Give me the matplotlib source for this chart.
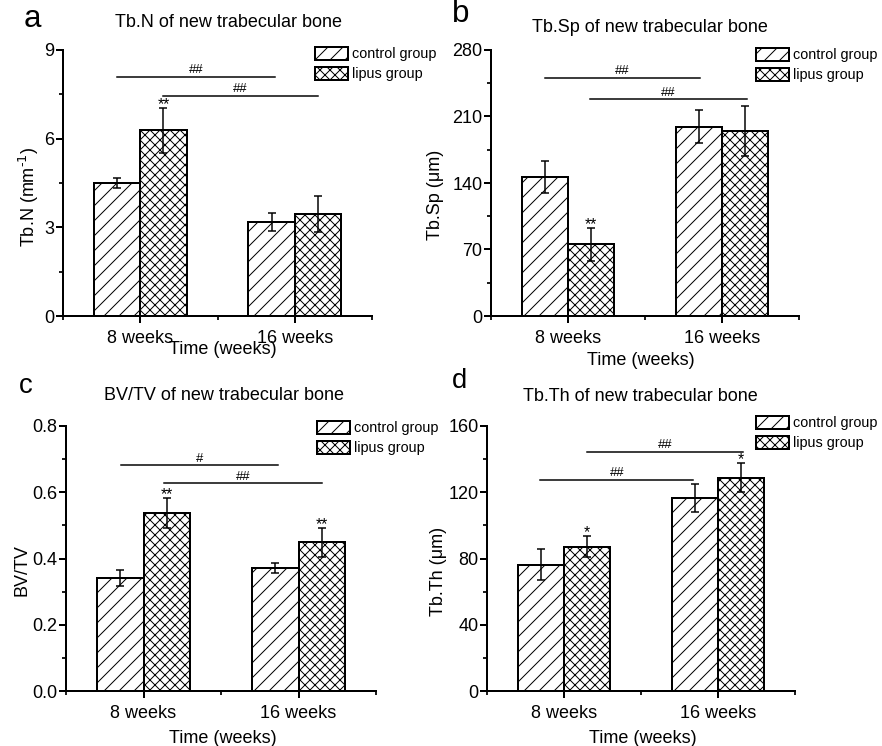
import numpy as np
import matplotlib
matplotlib.use('Agg')
import matplotlib.pyplot as plt
from matplotlib.ticker import MultipleLocator, FixedLocator, FormatStrFormatter

plt.rcParams['font.family'] = ['Liberation Sans', 'DejaVu Sans']
plt.rcParams['mathtext.default'] = 'regular'
plt.rcParams['hatch.linewidth'] = 0.8
plt.rcParams['hatch.color'] = 'black'

# data
groups = ['8 weeks', '16 weeks']
legend_labels = ['control group', 'lipus group']

tbn_control = [4.50, 3.19]
tbn_control_err = [0.18, 0.31]
tbn_lipus = [6.29, 3.45]
tbn_lipus_err = [0.76, 0.62]

tbsp_control = [146.6, 199.3]
tbsp_control_err = [17.0, 17.5]
tbsp_lipus = [75.4, 194.7]
tbsp_lipus_err = [17.3, 26.5]

bvtv_control = [0.341, 0.370]
bvtv_control_err = [0.023, 0.015]
bvtv_lipus = [0.537, 0.449]
bvtv_lipus_err = [0.045, 0.043]

tbth_control = [76.3, 116.3]
tbth_control_err = [9.4, 8.5]
tbth_lipus = [87.1, 128.9]
tbth_lipus_err = [6.3, 9.0]

# significance bars: (x start, x end, y, label)
tbn_sig = [(0.85, 1.87, 8.1, '##'), (1.15, 2.15, 7.44, '##')]
tbsp_sig = [(0.85, 1.86, 251, '##'), (1.14, 2.16, 228, '##')]
bvtv_sig = [(0.855, 1.865, 0.681, '#'), (1.135, 2.15, 0.627, '##')]
tbth_sig = [(1.15, 2.16, 144.6, '##'), (0.845, 1.84, 127.5, '##')]

# stars over the lipus bars, one entry per group
tbn_stars = ['**', '']
tbsp_stars = ['**', '']
bvtv_stars = ['**', '**']
tbth_stars = ['*', '*']

W, H = 882, 746
DPI = 90
fig = plt.figure(figsize=(W / DPI, H / DPI), dpi=DPI)

def fx(px):
    return px / W

def fy(py):
    return 1 - py / H

panels = [
    dict(rect=(63, 50, 372, 316), ctrl=tbn_control, ctrl_err=tbn_control_err,
         lip=tbn_lipus, lip_err=tbn_lipus_err, sig=tbn_sig, stars=tbn_stars,
         ylim=9, major=3, minor=1.5, fmt='%d', ylabel=r'Tb.N (mm$^{\text{-1}}$)',
         ylab_pos=(-0.071, 0.447), xlab_pos=(0.518, -0.095),
         title='Tb.N of new trabecular bone', title_pos=(228.5, 27),
         letter='a', letter_pos=(24, 27), letter_size=25, leg_pos=(315, 47)),
    dict(rect=(491, 50, 799, 316), ctrl=tbsp_control, ctrl_err=tbsp_control_err,
         lip=tbsp_lipus, lip_err=tbsp_lipus_err, sig=tbsp_sig, stars=tbsp_stars,
         ylim=280, major=70, minor=35, fmt='%d', ylabel='Tb.Sp (\u03bcm)',
         ylab_pos=(-0.152, 0.455), xlab_pos=(0.487, -0.135),
         title='Tb.Sp of new trabecular bone', title_pos=(650, 32),
         letter='b', letter_pos=(452, 22), letter_size=25, leg_pos=(756, 48)),
    dict(rect=(66, 426, 376, 691), ctrl=bvtv_control, ctrl_err=bvtv_control_err,
         lip=bvtv_lipus, lip_err=bvtv_lipus_err, sig=bvtv_sig, stars=bvtv_stars,
         ylim=0.8, major=0.2, minor=0.1, fmt='%.1f', ylabel='BV/TV',
         ylab_pos=(-0.113, 0.457), xlab_pos=(0.505, -0.148),
         title='BV/TV of new trabecular bone', title_pos=(224, 400),
         letter='c', letter_pos=(19, 393), letter_size=22, leg_pos=(317, 421)),
    dict(rect=(487, 426, 795, 691), ctrl=tbth_control, ctrl_err=tbth_control_err,
         lip=tbth_lipus, lip_err=tbth_lipus_err, sig=tbth_sig, stars=tbth_stars,
         ylim=160, major=40, minor=20, fmt='%d', ylabel='Tb.Th (\u03bcm)',
         ylab_pos=(-0.130, 0.453), xlab_pos=(0.506, -0.148),
         title='Tb.Th of new trabecular bone', title_pos=(640, 401),
         letter='d', letter_pos=(452, 388), letter_size=22, leg_pos=(756, 416)),
]

x = np.arange(1, len(groups) + 1)
width = 0.3

for p in panels:
    l, t, r, b = p['rect']
    ax = fig.add_axes([fx(l), fy(b), (r - l) / W, (b - t) / H])

    ax.bar(x - width / 2, p['ctrl'], width, facecolor='white',
           edgecolor='black', linewidth=1.6, hatch='//', label=legend_labels[0], zorder=2)
    ax.bar(x + width / 2, p['lip'], width, facecolor='white',
           edgecolor='black', linewidth=1.6, hatch='xxx', label=legend_labels[1], zorder=2)
    ax.errorbar(x - width / 2, p['ctrl'], yerr=p['ctrl_err'], fmt='none', ecolor='black',
                elinewidth=1.2, capsize=3.2, capthick=1.2, zorder=3)
    ax.errorbar(x + width / 2, p['lip'], yerr=p['lip_err'], fmt='none', ecolor='black',
                elinewidth=1.2, capsize=3.2, capthick=1.2, zorder=3)

    for xi, v, e, s in zip(x + width / 2, p['lip'], p['lip_err'], p['stars']):
        if s:
            ax.annotate(s, xy=(xi, v + e), xytext=(0, -1), textcoords='offset points',
                        ha='center', va='baseline', fontsize=12.5)

    for x0, x1, yv, lab in p['sig']:
        ax.plot([x0, x1], [yv, yv], color='black', linewidth=1.2, clip_on=False)
        ax.annotate(lab, xy=((x0 + x1) / 2, yv), xytext=(0, 3), textcoords='offset points',
                    ha='center', va='baseline', fontsize=10.5)

    ax.set_xlim(0.5, 2.5)
    ax.set_ylim(0, p['ylim'])
    ax.set_xticks(x)
    ax.set_xticklabels(groups)
    ax.xaxis.set_minor_locator(FixedLocator([0.5, 1.5, 2.5]))
    ax.yaxis.set_major_locator(MultipleLocator(p['major']))
    ax.yaxis.set_minor_locator(MultipleLocator(p['minor']))
    ax.yaxis.set_major_formatter(FormatStrFormatter(p['fmt']))

    for side in ['top', 'right']:
        ax.spines[side].set_visible(False)
    for side in ['left', 'bottom']:
        ax.spines[side].set_linewidth(1.6)
    ax.tick_params(which='major', direction='out', length=5.6, width=1.6, labelsize=14.4)
    ax.tick_params(which='minor', direction='out', length=3.2, width=1.4)
    ax.tick_params(axis='x', which='major', pad=5.5)
    ax.tick_params(axis='y', which='major', pad=1.2)

    ax.set_ylabel(p['ylabel'], fontsize=14.4)
    ax.yaxis.set_label_coords(*p['ylab_pos'])
    ax.set_xlabel('Time (weeks)', fontsize=14.4, va='top')
    ax.xaxis.set_label_coords(*p['xlab_pos'])

    fig.text(fx(p['title_pos'][0]), fy(p['title_pos'][1]), p['title'],
             ha='center', va='baseline', fontsize=14.4)
    fig.text(fx(p['letter_pos'][0]), fy(p['letter_pos'][1]), p['letter'],
             ha='left', va='baseline', fontsize=p['letter_size'])

    ax.legend(loc='upper left', bbox_to_anchor=(fx(p['leg_pos'][0]), fy(p['leg_pos'][1])),
              bbox_transform=fig.transFigure, frameon=False, fontsize=11.5,
              borderpad=0, borderaxespad=0, handlelength=2.3, handleheight=1.0,
              handletextpad=0.3, labelspacing=0.4)

fig.savefig('out.png', dpi=DPI)
